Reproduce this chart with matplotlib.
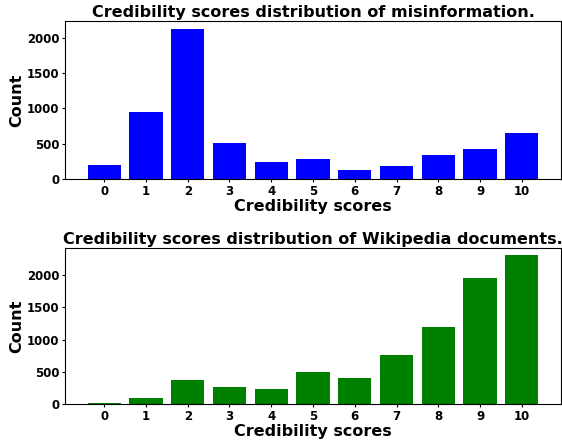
import numpy as np
import matplotlib
matplotlib.use("Agg")
import matplotlib.pyplot as plt

scores = list(range(11))
misinfo_counts = [198, 946, 2132, 508, 240, 282, 127, 184, 339, 424, 649]
wiki_counts = [15, 92, 366, 260, 229, 504, 397, 763, 1191, 1954, 2305]

plt.rcParams['font.weight'] = 'bold'

fig = plt.figure(figsize=(5.62, 4.45), dpi=100)
ax1 = fig.add_axes([65/562, 1-179/445, (561-65)/562, (179-21)/445])
ax2 = fig.add_axes([65/562, 1-404/445, (561-65)/562, (404-248)/445])

for ax, counts, color, title in [
        (ax1, misinfo_counts, 'blue', 'Credibility scores distribution of misinformation.'),
        (ax2, wiki_counts, 'green', 'Credibility scores distribution of Wikipedia documents.')]:
    ax.bar(scores, counts, color=color)
    ax.set_xticks(scores)
    ax.tick_params(labelsize=8.5, length=2.5, pad=1.5)
    for lab in ax.get_xticklabels() + ax.get_yticklabels():
        lab.set_fontweight('bold')
    ax.set_xlabel('Credibility scores', fontsize=11.5, fontweight='bold', labelpad=1)
    ax.set_ylabel('Count', fontsize=11.5, fontweight='bold', labelpad=2)
    ax.set_title(title, fontsize=11.5, fontweight='bold', pad=3)

fig.savefig('out.png', dpi=100)
